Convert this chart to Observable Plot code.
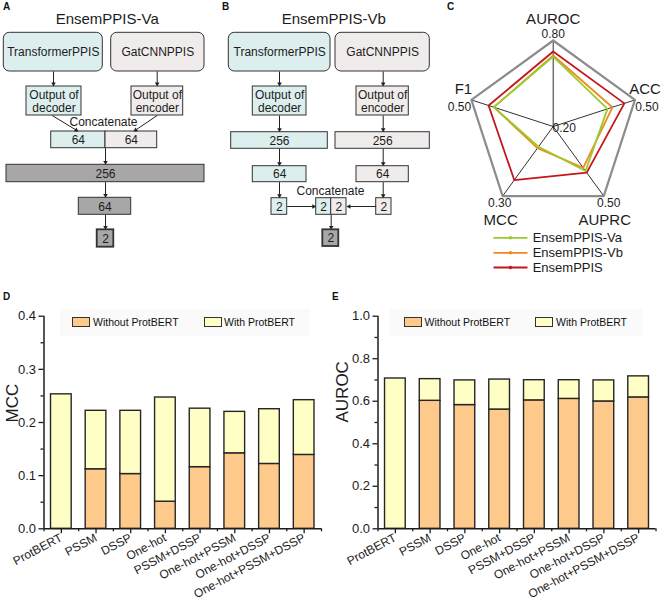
<!DOCTYPE html>
<html><head><meta charset="utf-8">
<script src="https://cdn.jsdelivr.net/npm/d3@7"></script>
<script src="https://cdn.jsdelivr.net/npm/@observablehq/plot@0.6"></script>
<style>
body{margin:0;background:#fff;font-family:"Liberation Sans",Arial,sans-serif;}
#fig{position:relative;width:660px;height:606px;overflow:hidden;background:#fff}
#fig > div{position:absolute}
.plbl{font-weight:bold;font-size:10px;line-height:10px;color:#111}
.leg{position:absolute;font-size:10.5px;color:#111;white-space:nowrap}
.sw{position:absolute;border:1px solid #333;box-sizing:border-box}
</style></head><body><div id="fig"></div>
<script>
// ---------- data ----------
const features = ["ProtBERT","PSSM","DSSP","One-hot","PSSM+DSSP","One-hot+PSSM","One-hot+DSSP","One-hot+PSSM+DSSP"];
const mccWithout = [null, 0.112, 0.103, 0.051, 0.116, 0.142, 0.122, 0.139];
const mccWith    = [0.253, 0.222, 0.222, 0.247, 0.226, 0.220, 0.225, 0.242];
const aurocWithout = [null, 0.602, 0.582, 0.561, 0.604, 0.611, 0.599, 0.618];
const aurocWith    = [0.707, 0.704, 0.698, 0.702, 0.699, 0.699, 0.698, 0.717];
const mccTicks = [0, 0.1, 0.2, 0.3, 0.4];
const mccMinor = [0.05, 0.15, 0.25, 0.35];
const aurocTicks = [0, 0.2, 0.4, 0.6, 0.8, 1.0];
const aurocMinor = [0.1, 0.3, 0.5, 0.7, 0.9];
const legendNames = ["Without ProtBERT", "With ProtBERT"];

const radarAxes = ["AUROC","ACC","AUPRC","MCC","F1"];
const radarMin = [0.20, 0.20, 0.20, 0.20, 0.20];
const radarMax = [0.80, 0.50, 0.50, 0.30, 0.50];
const radarMaxLabels = ["0.80","0.50","0.50","0.30","0.50"];
const radarCenterLabel = "0.20";
const models = ["EnsemPPIS-Va","EnsemPPIS-Vb","EnsemPPIS"];
const vaValues  = [0.688, 0.399, 0.392, 0.229, 0.418];
const vbValues  = [0.695, 0.417, 0.378, 0.231, 0.418];
const ensValues = [0.723, 0.461, 0.399, 0.277, 0.437];

// ---------- styles ----------
const FONT = "'Liberation Sans', Arial, sans-serif";
const INK = "#1c1c1c";
const CYAN = "#DCEFEE", PINK = "#F1ECEC", GRAY = "#A8A6A6";
const ORANGE = "#FDCA8C", YELLOW = "#FFFEC4";
const modelColors = ["#9ACB2C", "#EE8A1E", "#C4161C"];

const fig = document.getElementById("fig");
function place(node, left, top){
  const d = document.createElement("div");
  d.style.left = left + "px"; d.style.top = top + "px";
  d.appendChild(node); fig.appendChild(d); return d;
}
function panelLabel(t, left, top){
  const d = document.createElement("div");
  d.className = "plbl"; d.textContent = t;
  d.style.left = left + "px"; d.style.top = top + "px";
  fig.appendChild(d);
}

// ---------- diagrams A & B (layout of boxes in panel pixel units) ----------
const diagramA = {
  title: {x: 106.7, y: 18.5, text: "EnsemPPIS-Va"},
  rounded: [
    {x1: 3.3, x2: 102.3, y1: 32.3, y2: 71, fill: CYAN, label: "TransformerPPIS"},
    {x1: 110.7, x2: 204, y1: 32.3, y2: 71, fill: PINK, label: "GatCNNPPIS"}
  ],
  boxes: [
    {x1: 26, x2: 81, y1: 86, y2: 115, fill: CYAN, label: "Output of\ndecoder"},
    {x1: 131, x2: 182.7, y1: 86, y2: 115, fill: PINK, label: "Output of\nencoder"},
    {x1: 50.7, x2: 105, y1: 131, y2: 147.7, fill: CYAN, label: "64"},
    {x1: 105, x2: 156.7, y1: 131, y2: 147.7, fill: PINK, label: "64"},
    {x1: 6, x2: 204, y1: 164.3, y2: 181.7, fill: GRAY, label: "256"},
    {x1: 78.3, x2: 130.7, y1: 197.3, y2: 214.3, fill: GRAY, label: "64"},
    {x1: 96.7, x2: 113.3, y1: 229.3, y2: 246.7, fill: GRAY, label: "2", thick: true}
  ],
  arrows: [
    {x1: 53, y1: 71, x2: 53, y2: 86},
    {x1: 156.7, y1: 71, x2: 156.7, y2: 86},
    {x1: 51.7, y1: 115, x2: 78, y2: 131},
    {x1: 156.7, y1: 115, x2: 133, y2: 131},
    {x1: 105, y1: 147.7, x2: 105, y2: 164.3},
    {x1: 105, y1: 181.7, x2: 105, y2: 197.3},
    {x1: 105, y1: 214.3, x2: 105, y2: 229.3}
  ],
  notes: [{x: 103, y: 121.5, text: "Concatenate"}]
};
const diagramB = {
  title: {x: 113.3, y: 18.5, text: "EnsemPPIS-Vb"},
  rounded: [
    {x1: 8.3, x2: 110, y1: 32.3, y2: 71, fill: CYAN, label: "TransformerPPIS"},
    {x1: 115, x2: 209.3, y1: 32.3, y2: 71, fill: PINK, label: "GatCNNPPIS"}
  ],
  boxes: [
    {x1: 32.3, x2: 86, y1: 86, y2: 115, fill: CYAN, label: "Output of\ndecoder"},
    {x1: 136, x2: 188.3, y1: 86, y2: 115, fill: PINK, label: "Output of\nencoder"},
    {x1: 10.7, x2: 107.3, y1: 131.7, y2: 148.3, fill: CYAN, label: "256"},
    {x1: 115, x2: 209.3, y1: 131.7, y2: 148.3, fill: PINK, label: "256"},
    {x1: 32.3, x2: 86, y1: 165.7, y2: 181.7, fill: CYAN, label: "64"},
    {x1: 136, x2: 188.3, y1: 165.7, y2: 181.7, fill: PINK, label: "64"},
    {x1: 51, x2: 66.7, y1: 197.7, y2: 214.3, fill: CYAN, label: "2"},
    {x1: 155.7, x2: 171, y1: 197.7, y2: 214.3, fill: PINK, label: "2"},
    {x1: 95.7, x2: 110.7, y1: 197.7, y2: 214.3, fill: CYAN, label: "2"},
    {x1: 110.7, x2: 126, y1: 197.7, y2: 214.3, fill: PINK, label: "2"},
    {x1: 102.3, x2: 118.3, y1: 229.3, y2: 246, fill: GRAY, label: "2", thick: true}
  ],
  arrows: [
    {x1: 59, y1: 71, x2: 59, y2: 86},
    {x1: 162.7, y1: 71, x2: 162.7, y2: 86},
    {x1: 59, y1: 115, x2: 59, y2: 131.7},
    {x1: 162.7, y1: 115, x2: 162.7, y2: 131.7},
    {x1: 59, y1: 148.3, x2: 59, y2: 165.7},
    {x1: 162.7, y1: 148.3, x2: 162.7, y2: 165.7},
    {x1: 59, y1: 181.7, x2: 59, y2: 197.7},
    {x1: 162.7, y1: 181.7, x2: 162.7, y2: 197.7},
    {x1: 66.7, y1: 206, x2: 95.7, y2: 206},
    {x1: 155.7, y1: 206, x2: 126, y2: 206},
    {x1: 110.7, y1: 214.3, x2: 110.7, y2: 229.3}
  ],
  notes: [{x: 110, y: 190.5, text: "Concatenate"}]
};

function diagram(spec){
  const HEAD = 2.6;
  const arrows = spec.arrows.map(a => {
    const ang = Math.atan2(a.y2 - a.y1, a.x2 - a.x1);
    return {...a, hx: a.x2 - HEAD * Math.cos(ang), hy: a.y2 - HEAD * Math.sin(ang), rot: ang * 180 / Math.PI + 90};
  });
  const all = spec.rounded.concat(spec.boxes);
  return Plot.plot({
    width: 220, height: 255, margin: 0,
    style: {fontFamily: FONT, background: "transparent", color: INK, overflow: "visible"},
    x: {domain: [0, 220], range: [0, 220], axis: null},
    y: {domain: [0, 255], range: [0, 255], axis: null},
    color: {type: "identity"},
    marks: [
      Plot.rect(spec.rounded, {x1: "x1", x2: "x2", y1: "y1", y2: "y2", fill: "fill", stroke: "#333", strokeWidth: 1, rx: 6}),
      Plot.rect(spec.boxes.filter(b => !b.thick), {x1: "x1", x2: "x2", y1: "y1", y2: "y2", fill: "fill", stroke: "#333", strokeWidth: 1}),
      Plot.rect(spec.boxes.filter(b => b.thick), {x1: "x1", x2: "x2", y1: "y1", y2: "y2", fill: "fill", stroke: "#333", strokeWidth: 1.8}),
      Plot.text(all, {x: d => (d.x1 + d.x2) / 2, y: d => (d.y1 + d.y2) / 2, text: "label", fontSize: 12, fill: INK, lineHeight: 1.1}),
      Plot.link(arrows, {x1: "x1", y1: "y1", x2: "hx", y2: "hy", stroke: "#222", strokeWidth: 1}),
      Plot.dot(arrows, {x: "hx", y: "hy", symbol: "triangle", r: 1.7, rotate: "rot", fill: "#222", stroke: "none"}),
      Plot.text(spec.notes, {x: "x", y: "y", text: "text", fontSize: 12, fill: INK}),
      Plot.text([spec.title], {x: "x", y: "y", text: "text", fontSize: 15, fill: INK})
    ]
  });
}

// ---------- radar C ----------
function radar(){
  const R = 86;
  const ang = i => (-90 + 72 * i) * Math.PI / 180;
  const pt = (i, f) => ({x: f * R * Math.cos(ang(i)), y: f * R * Math.sin(ang(i))});
  const outer = radarAxes.map((a, i) => pt(i, 1)); outer.push(outer[0]);
  const spokes = radarAxes.map((a, i) => ({...pt(i, 1), a}));
  const series = [vaValues, vbValues, ensValues].map((vals, m) => {
    const p = vals.map((v, i) => ({...pt(i, (v - radarMin[i]) / (radarMax[i] - radarMin[i])), m}));
    p.push(p[0]); return p;
  });
  // label offsets from each vertex (px)
  const nameOff = [[0, -21.5], [10, -11], [1, 24], [-2, 24], [-8, -11]];
  const valOff = [[0, -6.5], [12, 7.5], [5, 7], [-3, 7], [-12, 7.5]];
  const names = radarAxes.map((a, i) => ({x: outer[i].x + nameOff[i][0], y: outer[i].y + nameOff[i][1], t: a}));
  const vals = radarMaxLabels.map((a, i) => ({x: outer[i].x + valOff[i][0], y: outer[i].y + valOff[i][1], t: a}));
  const legY = [111.3, 126.3, 141];
  const leg = models.map((m, i) => ({m, c: modelColors[i], y: legY[i]}));
  return Plot.plot({
    width: 220, height: 280, margin: 0,
    style: {fontFamily: FONT, background: "transparent", color: INK, overflow: "visible"},
    x: {domain: [-112.7, 107.3], range: [0, 220], axis: null},
    y: {domain: [-126, 154], range: [0, 280], axis: null},
    color: {type: "identity"},
    marks: [
      Plot.link(spokes, {x1: 0, y1: 0, x2: "x", y2: "y", stroke: "#1a1a1a", strokeWidth: 0.9}),
      Plot.line(outer, {x: "x", y: "y", stroke: "#8c8c8c", strokeWidth: 2.2}),
      Plot.line(series[2], {x: "x", y: "y", stroke: modelColors[2], strokeWidth: 1.8}),
      Plot.line(series[1], {x: "x", y: "y", stroke: modelColors[1], strokeWidth: 1.8}),
      Plot.line(series[0], {x: "x", y: "y", stroke: modelColors[0], strokeWidth: 1.8}),
      Plot.text(names, {x: "x", y: "y", text: "t", fontSize: 15, fill: INK}),
      Plot.text(vals, {x: "x", y: "y", text: "t", fontSize: 12, fill: INK}),
      Plot.text([radarCenterLabel], {x: 11, y: 2, text: d => d, fontSize: 12, fill: INK}),
      Plot.link(leg, {x1: -59.7, x2: -25.7, y1: "y", y2: "y", stroke: "c", strokeWidth: 1.8}),
      Plot.dot(leg, {x: -42.7, y: "y", fill: "c", r: 1.8}),
      Plot.text(leg, {x: -20.5, y: "y", text: "m", textAnchor: "start", fontSize: 13, fill: INK})
    ]
  });
}

// ---------- bar charts D & E ----------
function barChart(without, withv, yMax, major, minor, label, ml, mr){
  const data = features.map((f, i) => ({i, wo: without[i], w: withv[i]}));
  const hw = 0.298;
  return Plot.plot({
    width: 330, height: 316, marginTop: 25.7, marginBottom: 77.7, marginLeft: ml, marginRight: mr,
    style: {fontFamily: FONT, background: "transparent", color: INK, overflow: "visible"},
    x: {type: "linear", domain: [-0.5, 7.5]},
    y: {domain: [0, yMax]},
    marks: [
      Plot.rect(data.filter(d => d.wo != null), {x1: d => d.i - hw, x2: d => d.i + hw, y1: 0, y2: "wo", fill: ORANGE, stroke: "#262626", strokeWidth: 1.4}),
      Plot.rect(data, {x1: d => d.i - hw, x2: d => d.i + hw, y1: d => d.wo ?? 0, y2: "w", fill: YELLOW, stroke: "#262626", strokeWidth: 1.4}),
      Plot.ruleY([0], {stroke: INK, strokeWidth: 1.5}),
      Plot.ruleX([-0.5], {stroke: INK, strokeWidth: 1.5}),
      Plot.axisY({ticks: major, tickFormat: d => d.toFixed(1), tickSize: 5, tickPadding: 3, fontSize: 13, label: null, strokeWidth: 1.3}),
      Plot.axisY({ticks: minor, tickSize: 3, tickFormat: () => "", label: null, strokeWidth: 1.3}),
      Plot.axisX({ticks: d3.range(8), tickFormat: i => features[i], tickRotate: -28, tickSize: 5, tickPadding: 3, fontSize: 12, label: null, strokeWidth: 1.3}),
      Plot.axisX({ticks: d3.range(-0.5, 8, 1), tickSize: 3, tickFormat: () => "", label: null, strokeWidth: 1.3}),
      Plot.text([label], {text: d => d, frameAnchor: "left", rotate: -90, dx: ml - 12 > 0 ? -(ml - 12) : -30, fontSize: 17, fill: INK})
    ]
  });
}

function barLegend(left, top, sw1, tx1, sw2, tx2, boxL, boxW){
  const box = document.createElement("div");
  box.style.cssText = `position:absolute;left:${boxL}px;top:${top + 19}px;width:${boxW}px;height:27px;background:#fafafa`;
  fig.appendChild(box);
  const items = [[sw1, tx1, ORANGE, legendNames[0]], [sw2, tx2, YELLOW, legendNames[1]]];
  for (const [sx, tx, col, name] of items){
    const s = document.createElement("div");
    s.className = "sw";
    s.style.cssText += `left:${sx}px;top:${top + 27}px;width:18px;height:10px;background:${col}`;
    fig.appendChild(s);
    const t = document.createElement("div");
    t.className = "leg"; t.textContent = name;
    t.style.left = tx + "px"; t.style.top = (top + 25.5) + "px";
    fig.appendChild(t);
  }
}

place(diagram(diagramA), 0, 0);
place(diagram(diagramB), 220, 0);
place(radar(), 440, 0);
place(barChart(mccWithout, mccWith, 0.4, mccTicks, mccMinor, "MCC", 43.5, 9), 0, 290);
place(barChart(aurocWithout, aurocWith, 1.0, aurocTicks, aurocMinor, "AUROC", 47.5, 4.5), 330, 290);
barLegend(0, 290, 72, 93, 204, 224, 60, 250);
barLegend(330, 290, 404, 424.5, 535, 556, 390, 252);

panelLabel("A", 3, 2);
panelLabel("B", 222, 2);
panelLabel("C", 447, 2);
panelLabel("D", 3, 292);
panelLabel("E", 332, 292);
</script></body></html>
